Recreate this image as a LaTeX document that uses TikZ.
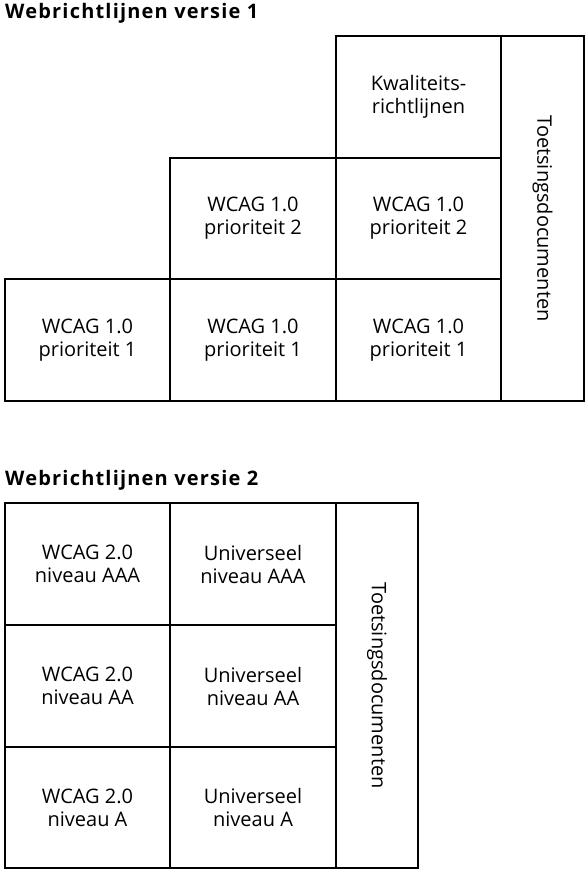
\documentclass[tikz,border=0pt]{standalone}
\usepackage{fontspec}
\setmainfont{Open Sans}
\newfontfamily\titlefont[LetterSpace=6]{Open Sans}
\begin{document}
\begin{tikzpicture}[x=1pt,y=-1pt,
  cell/.style={draw,line width=2pt,anchor=north west,inner sep=0pt,align=center,
    font=\fontsize{20}{23}\selectfont},
  ttl/.style={anchor=base west,inner sep=0pt,font=\titlefont\fontsize{20}{22}\selectfont\bfseries},
  vtext/.style={rotate=-90,inner sep=0pt,font=\fontsize{20}{22}\selectfont}]
\useasboundingbox (0,0) rectangle (585,869);
% top
\node[ttl] (t1) at (5,18.5) {Webrichtlijnen versie 1};
\node[cell,minimum width=165pt,minimum height=122pt] (k) at (335,35) {Kwaliteits-\\richtlijnen};
\node[cell,minimum width=83pt,minimum height=365pt] (td1) at (500,35) {};
\node[vtext] (td1t) at (td1.center) {Toetsingsdocumenten};
\node[cell,minimum width=166pt,minimum height=121pt] (a2) at (169,157) {WCAG 1.0\\prioriteit 2};
\node[cell,minimum width=165pt,minimum height=121pt] (b2) at (335,157) {WCAG 1.0\\prioriteit 2};
\node[cell,minimum width=165pt,minimum height=122pt] (a1) at (4,278) {WCAG 1.0\\prioriteit 1};
\node[cell,minimum width=166pt,minimum height=122pt] (b1) at (169,278) {WCAG 1.0\\prioriteit 1};
\node[cell,minimum width=165pt,minimum height=122pt] (c1) at (335,278) {WCAG 1.0\\prioriteit 1};
% bottom
\node[ttl] (t2) at (5,485.5) {Webrichtlijnen versie 2};
\node[cell,minimum width=165pt,minimum height=122pt] (w3) at (4,502) {WCAG 2.0\\niveau AAA};
\node[cell,minimum width=166pt,minimum height=122pt] (u3) at (169,502) {Universeel\\niveau AAA};
\node[cell,minimum width=165pt,minimum height=122pt] (w2) at (4,624) {WCAG 2.0\\niveau AA};
\node[cell,minimum width=166pt,minimum height=122pt] (u2) at (169,624) {Universeel\\niveau AA};
\node[cell,minimum width=165pt,minimum height=121pt] (w1) at (4,746) {WCAG 2.0\\niveau A};
\node[cell,minimum width=166pt,minimum height=121pt] (u1) at (169,746) {Universeel\\niveau A};
\node[cell,minimum width=82pt,minimum height=365pt] (td2) at (335,502) {};
\node[vtext] (td2t) at (td2.center) {Toetsingsdocumenten};
\end{tikzpicture}
\end{document}
